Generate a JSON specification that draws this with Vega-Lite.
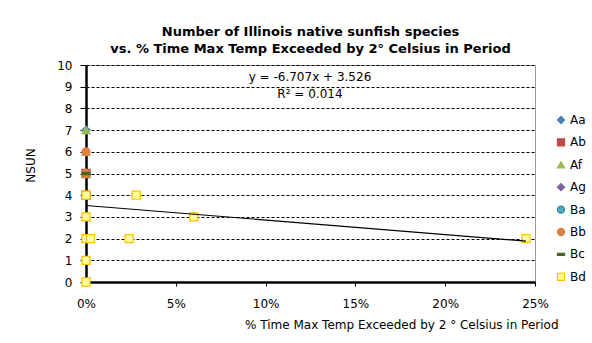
{
  "$schema": "https://vega.github.io/schema/vega-lite/v6.json",
  "width": 449,
  "height": 217,
  "autosize": {"type": "none"},
  "padding": {"left": 86, "top": 65, "right": 57, "bottom": 61},
  "background": "white",
  "title": {
    "text": ["Number of Illinois native sunfish species", "vs. % Time Max Temp Exceeded by 2° Celsius in Period"],
    "font": "DejaVu Sans",
    "fontSize": 13,
    "fontWeight": "bold",
    "color": "black",
    "anchor": "middle",
    "offset": 3,
    "lineHeight": 17
  },
  "config": {
    "font": "DejaVu Sans",
    "view": {"stroke": "#999999", "strokeWidth": 1}
  },
  "encoding": {
    "x": {
      "field": "pct",
      "type": "quantitative",
      "scale": {"domain": [0, 0.25], "nice": false},
      "axis": {
        "values": [0, 0.05, 0.1, 0.15, 0.2, 0.25],
        "tickCount": 20,
        "format": ".0%",
        "grid": false,
        "labelFlush": false,
        "labelOverlap": false,
        "domainColor": "black",
        "domainWidth": 2.5,
        "tickColor": "black",
        "tickSize": 4,
        "labelPadding": 12,
        "labelFontSize": 12,
        "labelColor": "black",
        "title": "% Time Max Temp Exceeded by 2 ° Celsius in Period",
        "titleFontSize": 12,
        "titleFontWeight": "normal",
        "titleColor": "black",
        "titleX": 472,
        "titleY": 42,
        "titleAlign": "right",
        "titleBaseline": "middle"
      }
    },
    "y": {
      "field": "nsun",
      "type": "quantitative",
      "scale": {"domain": [0, 10], "nice": false},
      "axis": {
        "values": [0, 1, 2, 3, 4, 5, 6, 7, 8, 9, 10],
        "tickCount": 20,
        "format": "d",
        "labelOverlap": false,
        "labelFlush": false,
        "grid": true,
        "gridColor": "black",
        "gridDash": [3, 2],
        "gridWidth": 1,
        "domainColor": "black",
        "domainWidth": 2.5,
        "tickColor": "black",
        "tickSize": 6,
        "labelPadding": 8,
        "labelFontSize": 12,
        "labelColor": "black",
        "title": "NSUN",
        "titleFontSize": 12,
        "titleFontWeight": "normal",
        "titleColor": "black",
        "titleX": -56,
        "titleY": 100,
        "titleAlign": "center",
        "titleBaseline": "middle"
      }
    }
  },
  "layer": [
    {
      "data": {
        "values": [
          {"series": "Aa", "pct": 0, "nsun": 7},
          {"series": "Aa", "pct": 0, "nsun": 5},
          {"series": "Aa", "pct": 0, "nsun": 2},
          {"series": "Aa", "pct": 0, "nsun": 1},
          {"series": "Ab", "pct": 0, "nsun": 5},
          {"series": "Ab", "pct": 0, "nsun": 4},
          {"series": "Af", "pct": 0, "nsun": 7},
          {"series": "Af", "pct": 0, "nsun": 6},
          {"series": "Af", "pct": 0, "nsun": 5},
          {"series": "Af", "pct": 0, "nsun": 4},
          {"series": "Af", "pct": 0, "nsun": 3},
          {"series": "Af", "pct": 0, "nsun": 2},
          {"series": "Ag", "pct": 0, "nsun": 3},
          {"series": "Ba", "pct": 0, "nsun": 1},
          {"series": "Bb", "pct": 0, "nsun": 6},
          {"series": "Bb", "pct": 0, "nsun": 5},
          {"series": "Bc", "pct": 0, "nsun": 5},
          {"series": "Bd", "pct": 0, "nsun": 4},
          {"series": "Bd", "pct": 0, "nsun": 3},
          {"series": "Bd", "pct": 0, "nsun": 2},
          {"series": "Bd", "pct": 0.0025, "nsun": 2},
          {"series": "Bd", "pct": 0, "nsun": 1},
          {"series": "Bd", "pct": 0, "nsun": 0},
          {"series": "Bd", "pct": 0.028, "nsun": 4},
          {"series": "Bd", "pct": 0.024, "nsun": 2},
          {"series": "Bd", "pct": 0.06, "nsun": 3},
          {"series": "Bd", "pct": 0.245, "nsun": 2}
        ]
      },
      "mark": {"type": "point", "filled": true, "size": 65, "opacity": 1, "strokeWidth": 1.2},
      "encoding": {
        "shape": {
          "field": "series",
          "type": "nominal",
          "scale": {
            "domain": ["Aa", "Ab", "Af", "Ag", "Ba", "Bb", "Bc", "Bd"],
            "range": ["diamond", "square", "triangle-up", "diamond", "circle", "circle", "M-1,-0.3H1V0.3H-1Z", "square"]
          },
          "legend": {
            "title": null,
            "orient": "none",
            "legendX": 469,
            "legendY": 49,
            "padding": 0,
            "symbolSize": 50,
            "symbolStrokeWidth": 1.2,
            "labelFontSize": 12,
            "labelColor": "black",
            "labelOffset": 3,
            "rowPadding": 10.4
          }
        },
        "fill": {
          "field": "series",
          "type": "nominal",
          "scale": {
            "domain": ["Aa", "Ab", "Af", "Ag", "Ba", "Bb", "Bc", "Bd"],
            "range": ["#4A7EBB", "#BE4B48", "#98B954", "#7D60A0", "#4BACC6", "#DD8040", "#4F6228", "#FFFF99"]
          },
          "legend": null
        },
        "stroke": {
          "field": "series",
          "type": "nominal",
          "scale": {
            "domain": ["Aa", "Ab", "Af", "Ag", "Ba", "Bb", "Bc", "Bd"],
            "range": ["#4A7EBB", "#BE4B48", "#98B954", "#7D60A0", "#357D91", "#DD8040", "#4F6228", "#FFC000"]
          },
          "legend": null
        }
      }
    },
    {
      "data": {
        "values": [
          {"pct": 0, "nsun": 3.526},
          {"pct": 0.245, "nsun": 1.883}
        ]
      },
      "mark": {"type": "line", "color": "black", "strokeWidth": 1.2},
      "encoding": {}
    },
    {
      "data": {
        "values": [
          {"pct": 0.1247, "nsun": 9.45, "label": "y = -6.707x + 3.526"},
          {"pct": 0.1247, "nsun": 8.67, "label": "R² = 0.014"}
        ]
      },
      "mark": {"type": "text", "fontSize": 12, "color": "black", "align": "center", "baseline": "middle", "font": "DejaVu Sans"},
      "encoding": {
        "text": {"field": "label", "type": "nominal"}
      }
    }
  ]
}
